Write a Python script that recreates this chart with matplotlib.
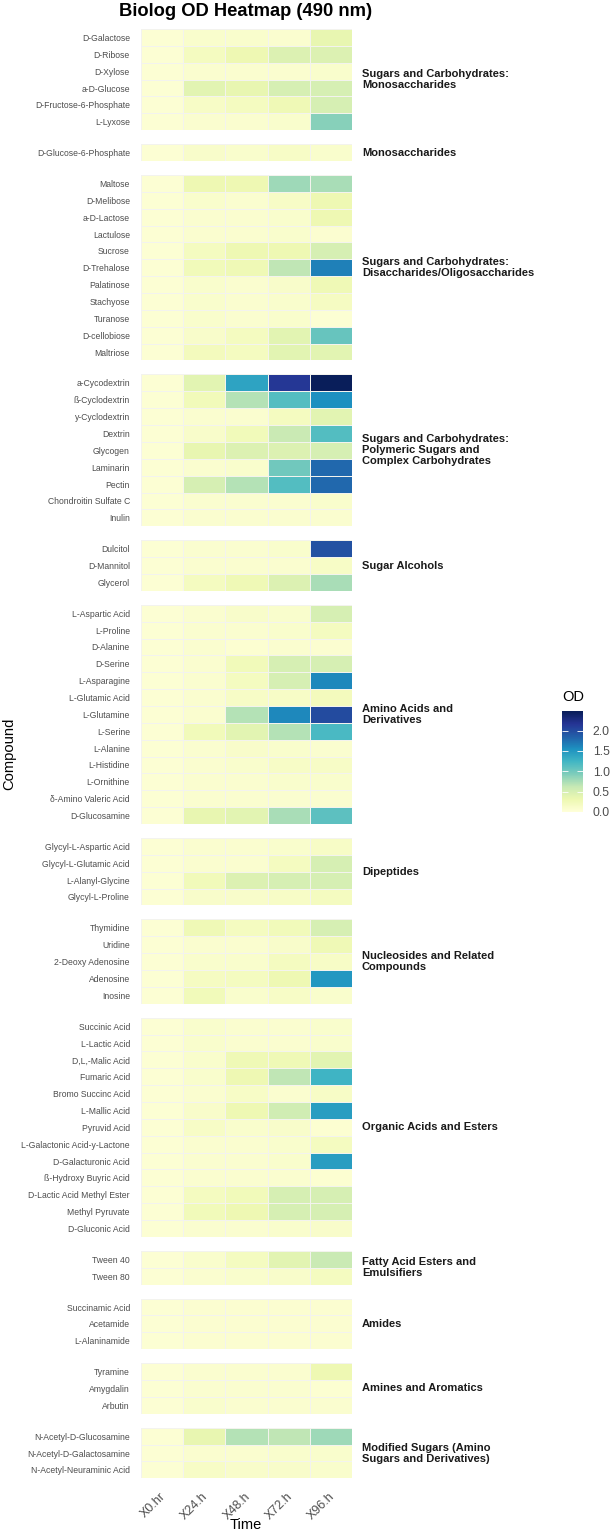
import numpy as np
import matplotlib
matplotlib.use("Agg")
import matplotlib.pyplot as plt
from matplotlib.colors import Normalize
from matplotlib.cm import ScalarMappable
from matplotlib.transforms import ScaledTranslation

plt.rcParams['font.family'] = ['Liberation Sans', 'DejaVu Sans']

# ---------------- data ----------------
times = ["X0.hr", "X24.h", "X48.h", "X72.h", "X96.h"]

group_labels = [
    "Sugars and Carbohydrates:\nMonosaccharides",
    "Monosaccharides",
    "Sugars and Carbohydrates:\nDisaccharides/Oligosaccharides",
    "Sugars and Carbohydrates:\nPolymeric Sugars and\nComplex Carbohydrates",
    "Sugar Alcohols",
    "Amino Acids and\nDerivatives",
    "Dipeptides",
    "Nucleosides and Related\nCompounds",
    "Organic Acids and Esters",
    "Fatty Acid Esters and\nEmulsifiers",
    "Amides",
    "Amines and Aromatics",
    "Modified Sugars (Amino\nSugars and Derivatives)",
]

group_sizes = [6, 1, 11, 9, 3, 13, 4, 5, 13, 2, 3, 3, 3]

compounds = [
    "D-Galactose", "D-Ribose", "D-Xylose", "a-D-Glucose", "D-Fructose-6-Phosphate", "L-Lyxose",
    "D-Glucose-6-Phosphate",
    "Maltose", "D-Melibose", "a-D-Lactose", "Lactulose", "Sucrose", "D-Trehalose",
    "Palatinose", "Stachyose", "Turanose", "D-cellobiose", "Maltriose",
    "a-Cycodextrin", "ß-Cyclodextrin", "y-Cyclodextrin", "Dextrin", "Glycogen",
    "Laminarin", "Pectin", "Chondroitin Sulfate C", "Inulin",
    "Dulcitol", "D-Mannitol", "Glycerol",
    "L-Aspartic Acid", "L-Proline", "D-Alanine", "D-Serine", "L-Asparagine",
    "L-Glutamic Acid", "L-Glutamine", "L-Serine", "L-Alanine", "L-Histidine",
    "L-Ornithine", "δ-Amino Valeric Acid", "D-Glucosamine",
    "Glycyl-L-Aspartic Acid", "Glycyl-L-Glutamic Acid", "L-Alanyl-Glycine", "Glycyl-L-Proline",
    "Thymidine", "Uridine", "2-Deoxy Adenosine", "Adenosine", "Inosine",
    "Succinic Acid", "L-Lactic Acid", "D,L,-Malic Acid", "Fumaric Acid", "Bromo Succinc Acid",
    "L-Mallic Acid", "Pyruvid Acid", "L-Galactonic Acid-y-Lactone", "D-Galacturonic Acid",
    "ß-Hydroxy Buyric Acid", "D-Lactic Acid Methyl Ester", "Methyl Pyruvate", "D-Gluconic Acid",
    "Tween 40", "Tween 80",
    "Succinamic Acid", "Acetamide", "L-Alaninamide",
    "Tyramine", "Amygdalin", "Arbutin",
    "N-Acetyl-D-Glucosamine", "N-Acetyl-D-Galactosamine", "N-Acetyl-Neuraminic Acid",
]

od_0h = [
    0.05, 0.05, 0.05, 0.05, 0.05, 0.05,
    0.05,
    0.05, 0.05, 0.05, 0.05, 0.05, 0.05, 0.05, 0.05, 0.05, 0.05, 0.05,
    0.05, 0.05, 0.05, 0.05, 0.05, 0.05, 0.05, 0.05, 0.05,
    0.05, 0.05, 0.05,
    0.05, 0.05, 0.05, 0.05, 0.05, 0.05, 0.05, 0.05, 0.05, 0.05, 0.05, 0.05, 0.05,
    0.05, 0.05, 0.05, 0.05,
    0.05, 0.05, 0.05, 0.05, 0.05,
    0.05, 0.05, 0.05, 0.05, 0.05, 0.05, 0.05, 0.05, 0.05, 0.05, 0.05, 0.05, 0.05,
    0.05, 0.05,
    0.05, 0.05, 0.05,
    0.05, 0.05, 0.05,
    0.05, 0.05, 0.05,
]
od_24h = [
    0.10, 0.20, 0.08, 0.40, 0.15, 0.08,
    0.12,
    0.30, 0.10, 0.08, 0.08, 0.20, 0.25, 0.10, 0.10, 0.10, 0.12, 0.22,
    0.40, 0.25, 0.08, 0.12, 0.35, 0.08, 0.50, 0.08, 0.08,
    0.08, 0.08, 0.20,
    0.08, 0.08, 0.08, 0.08, 0.08, 0.08, 0.08, 0.25, 0.08, 0.08, 0.08, 0.08, 0.35,
    0.08, 0.08, 0.25, 0.12,
    0.28, 0.08, 0.10, 0.18, 0.25,
    0.10, 0.10, 0.10, 0.10, 0.08, 0.12, 0.15, 0.08, 0.08, 0.08, 0.20, 0.25, 0.08,
    0.10, 0.08,
    0.07, 0.07, 0.07,
    0.08, 0.08, 0.10,
    0.35, 0.08, 0.15,
]
od_48h = [
    0.10, 0.30, 0.08, 0.35, 0.20, 0.08,
    0.10,
    0.30, 0.08, 0.08, 0.08, 0.30, 0.28, 0.08, 0.08, 0.08, 0.20, 0.20,
    1.40, 0.70, 0.08, 0.25, 0.45, 0.10, 0.70, 0.08, 0.08,
    0.08, 0.08, 0.28,
    0.12, 0.08, 0.06, 0.25, 0.20, 0.15, 0.70, 0.40, 0.12, 0.10, 0.08, 0.08, 0.40,
    0.08, 0.08, 0.45, 0.12,
    0.20, 0.08, 0.10, 0.20, 0.10,
    0.08, 0.08, 0.28, 0.30, 0.15, 0.30, 0.10, 0.08, 0.08, 0.08, 0.25, 0.30, 0.08,
    0.20, 0.10,
    0.07, 0.07, 0.07,
    0.08, 0.08, 0.08,
    0.70, 0.08, 0.12,
]
od_72h = [
    0.08, 0.45, 0.08, 0.50, 0.28, 0.10,
    0.15,
    0.80, 0.15, 0.10, 0.10, 0.30, 0.65, 0.12, 0.10, 0.10, 0.40, 0.40,
    2.15, 1.15, 0.20, 0.60, 0.45, 1.00, 1.15, 0.08, 0.08,
    0.10, 0.08, 0.45,
    0.10, 0.10, 0.08, 0.50, 0.50, 0.15, 1.60, 0.70, 0.10, 0.15, 0.10, 0.08, 0.75,
    0.10, 0.20, 0.50, 0.15,
    0.25, 0.12, 0.20, 0.30, 0.15,
    0.08, 0.08, 0.28, 0.65, 0.08, 0.55, 0.12, 0.10, 0.10, 0.08, 0.50, 0.50, 0.10,
    0.40, 0.12,
    0.07, 0.07, 0.07,
    0.08, 0.08, 0.08,
    0.65, 0.10, 0.12,
]
od_96h = [
    0.35, 0.45, 0.10, 0.50, 0.50, 0.90,
    0.10,
    0.75, 0.30, 0.30, 0.07, 0.50, 1.65, 0.28, 0.18, 0.05, 1.05, 0.40,
    2.47, 1.55, 0.40, 1.15, 0.50, 1.80, 1.80, 0.10, 0.08,
    1.95, 0.15, 0.75,
    0.50, 0.20, 0.07, 0.50, 1.60, 0.22, 2.00, 1.20, 0.08, 0.15, 0.10, 0.08, 1.10,
    0.15, 0.50, 0.50, 0.20,
    0.50, 0.28, 0.15, 1.50, 0.10,
    0.10, 0.10, 0.40, 1.25, 0.15, 1.45, 0.06, 0.20, 1.45, 0.06, 0.50, 0.50, 0.12,
    0.60, 0.20,
    0.07, 0.07, 0.07,
    0.30, 0.06, 0.08,
    0.80, 0.10, 0.10,
]

# ---------------- layout ----------------
W, H = 610, 1534
fig = plt.figure(figsize=(W / 100, H / 100), dpi=100)

def fx(px):
    return px / W

def fy(px):
    return 1 - px / H

values = np.column_stack([od_0h, od_24h, od_48h, od_72h, od_96h])
cmap = plt.get_cmap("YlGnBu")
norm = Normalize(vmin=0.0, vmax=2.48)

panel_left, panel_right = 141, 352
top0 = 29
row_h = 16.86
gap = 14

start = 0
cur_top = top0
axes = []
for gi, n in enumerate(group_sizes):
    h = n * row_h
    ax = fig.add_axes([fx(panel_left), fy(cur_top + h), fx(panel_right - panel_left), h / H])
    data = values[start:start + n]
    ax.pcolormesh(np.arange(len(times) + 1), np.arange(n + 1), data, cmap=cmap, norm=norm,
                  edgecolors="#f3f3ee", linewidth=0.4)
    ax.set_xlim(0, len(times))
    ax.set_ylim(n, 0)
    ax.set_yticks(np.arange(n) + 0.5)
    ax.set_yticklabels(compounds[start:start + n], fontsize=6.25, color="#4d4d4d")
    ax.tick_params(axis="y", length=0, pad=8)
    for s in ax.spines.values():
        s.set_visible(False)
    if gi == len(group_sizes) - 1:
        ax.set_xticks(np.arange(len(times)) + 0.5)
        ax.set_xticklabels(times, rotation=45, ha="right", va="top", fontsize=9, color="#4d4d4d")
        ax.tick_params(axis="x", length=0, pad=8.6)
        for lab in ax.get_xticklabels():
            lab.set_transform(lab.get_transform() + ScaledTranslation(6 / 100, 0, fig.dpi_scale_trans))
    else:
        ax.set_xticks([])
    fig.text(fx(362), fy(cur_top + h / 2), group_labels[gi], fontsize=8, fontweight="bold",
             color="#1a1a1a", ha="left", va="center", linespacing=1.12)
    axes.append(ax)
    start += n
    cur_top += h + gap

bottom = cur_top - gap

# titles
fig.text(fx(246), fy(11), "Biolog OD Heatmap (490 nm)", fontsize=13.2, fontweight="bold",
         ha="center", va="center", color="black")
fig.text(fx(9), fy((top0 + bottom) / 2), "Compound", rotation=90, fontsize=10.6,
         ha="center", va="center", color="black")
fig.text(fx(246), fy(1525), "Time", fontsize=10.5, ha="center", va="center", color="black")

# colorbar
cax = fig.add_axes([fx(562), fy(812), fx(21), 101 / H])
sm = ScalarMappable(norm=norm, cmap=cmap)
cb = fig.colorbar(sm, cax=cax, ticks=[0.0, 0.5, 1.0, 1.5, 2.0])
cb.outline.set_visible(False)
cb.ax.set_yticklabels(["0.0", "0.5", "1.0", "1.5", "2.0"])
cax.tick_params(axis="y", left=True, right=True, labelleft=False, labelright=True,
                direction="in", color="white", length=4, width=0.6, labelsize=8.8,
                labelcolor="#4d4d4d", pad=7)
fig.text(fx(562), fy(697), "OD", fontsize=10.5, ha="left", va="center", color="black")

fig.savefig("out.png", dpi=100)
